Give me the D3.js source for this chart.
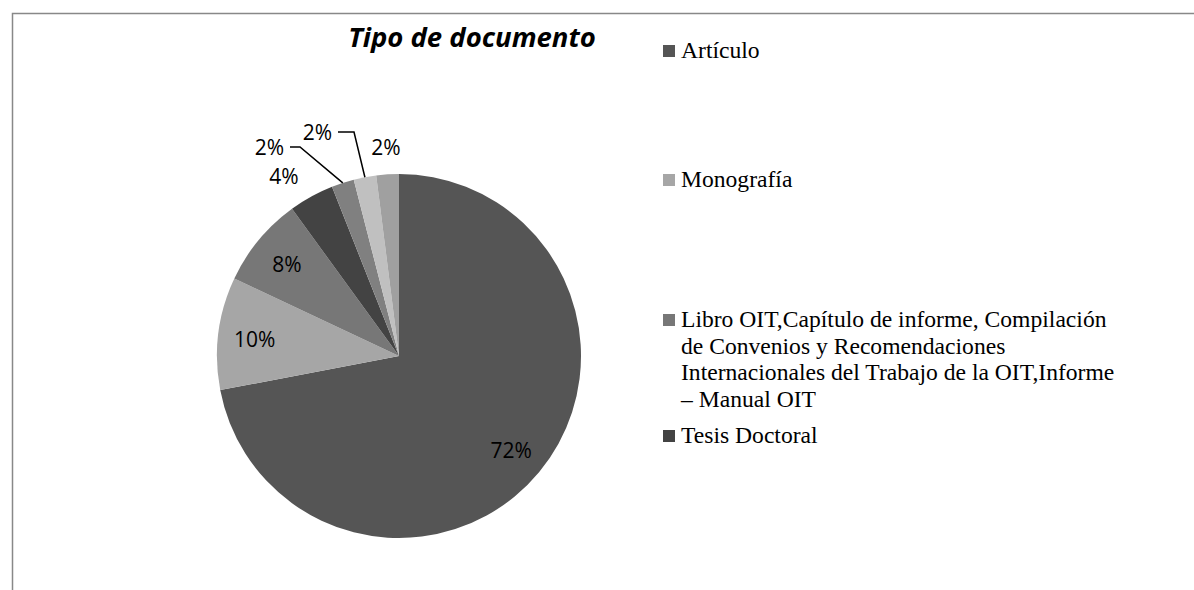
<!DOCTYPE html>
<html>
<head>
  <meta charset="utf-8">
  <script src="https://cdn.jsdelivr.net/npm/d3@7/dist/d3.min.js"></script>
  <style>
    html, body { margin: 0; padding: 0; background: #fff; }
    svg { display: block; }
    .title { font-family: "Open Sans", sans-serif; font-weight: bold; font-style: italic; font-size: 27.5px; fill: #000; }
    .lbl { font-family: "Open Sans", sans-serif; font-size: 21px; fill: #000; }
    .legend text { font-family: "Liberation Serif", "Times New Roman", serif; font-size: 23.6px; fill: #000; }
  </style>
</head>
<body>
<svg id="chart" width="1194" height="590"></svg>
<script>
  // data
  var categories = ["Artículo", "Monografía",
    "Libro OIT,Capítulo de informe, Compilación de Convenios y Recomendaciones Internacionales del Trabajo de la OIT,Informe – Manual OIT",
    "Tesis Doctoral", "Otro 1", "Otro 2", "Otro 3"];
  var values = [36, 5, 4, 2, 1, 1, 1];
  var legendLines = [
    ["Artículo"],
    ["Monografía"],
    ["Libro OIT,Capítulo de informe, Compilación", "de Convenios y Recomendaciones", "Internacionales del Trabajo de la OIT,Informe", "– Manual OIT"],
    ["Tesis Doctoral"]
  ];
  var colors = ["#555555", "#a6a6a6", "#777777", "#434343", "#808080", "#c0c0c0", "#a0a0a0"];

  var svg = d3.select("#chart");
  var cx = 399, cy = 356, r = 182;

  // frame
  svg.append("path")
    .attr("d", "M12.5,600 V13.5 H1200")
    .attr("fill", "none")
    .attr("stroke", "#888")
    .attr("stroke-width", 1.5);

  svg.append("text")
    .attr("class", "title")
    .attr("x", 472)
    .attr("y", 47)
    .attr("text-anchor", "middle")
    .text("Tipo de documento");

  var total = d3.sum(values);
  var pie = d3.pie().sort(null).value(d => d);
  var arcs = pie(values);
  var arc = d3.arc().innerRadius(0).outerRadius(r);

  var g = svg.append("g").attr("transform", `translate(${cx},${cy})`);

  g.selectAll("path.slice")
    .data(arcs)
    .enter()
    .append("path")
    .attr("class", "slice")
    .attr("d", arc)
    .attr("fill", (d, i) => colors[i]);

  var pct = d => Math.round(d.value / total * 100) + "%";
  var at = (d, rad) => {
    var a = (d.startAngle + d.endAngle) / 2;
    return [Math.sin(a) * rad, -Math.cos(a) * rad];
  };

  // outside labels: radius + shift, or leader elbow
  var outside = {
    3: {rad: r + 30, shift: [-13, 6]},
    4: {elbow: [-99, -209], end: -109},
    5: {elbow: [-45, -224], end: -61},
    6: {rad: r + 27, shift: [0, 0]}
  };

  arcs.forEach(function (d, i) {
    var p, anchor = "middle";
    var o = outside[i];
    if (!o) {
      p = at(d, r * 0.8);
      p[1] += 1.5;
    } else if (o.rad) {
      p = at(d, o.rad);
      p = [p[0] + o.shift[0], p[1] + o.shift[1]];
    } else {
      var e = at(d, r);
      g.append("path")
        .attr("d", d3.line()([e, o.elbow, [o.end, o.elbow[1]]]))
        .attr("fill", "none")
        .attr("stroke", "#000")
        .attr("stroke-width", 1.5);
      p = [o.end - 6, o.elbow[1] + 1];
      anchor = "end";
    }
    g.append("text")
      .attr("class", "lbl")
      .attr("x", p[0])
      .attr("y", p[1])
      .attr("dy", "0.35em")
      .attr("text-anchor", anchor)
      .text(pct(d));
  });

  // legend
  var legendY = [58, 187, 327, 443];
  var leg = svg.append("g").attr("class", "legend");
  legendLines.forEach(function (lines, i) {
    leg.append("rect")
      .attr("x", 663)
      .attr("y", legendY[i] - 13)
      .attr("width", 12)
      .attr("height", 12)
      .attr("fill", colors[i]);
    var t = leg.append("text").attr("x", 681).attr("y", legendY[i]);
    lines.forEach(function (s, j) {
      t.append("tspan")
        .attr("x", 681)
        .attr("dy", j === 0 ? 0 : 26.7)
        .text(s);
    });
  });
</script>
</body>
</html>
